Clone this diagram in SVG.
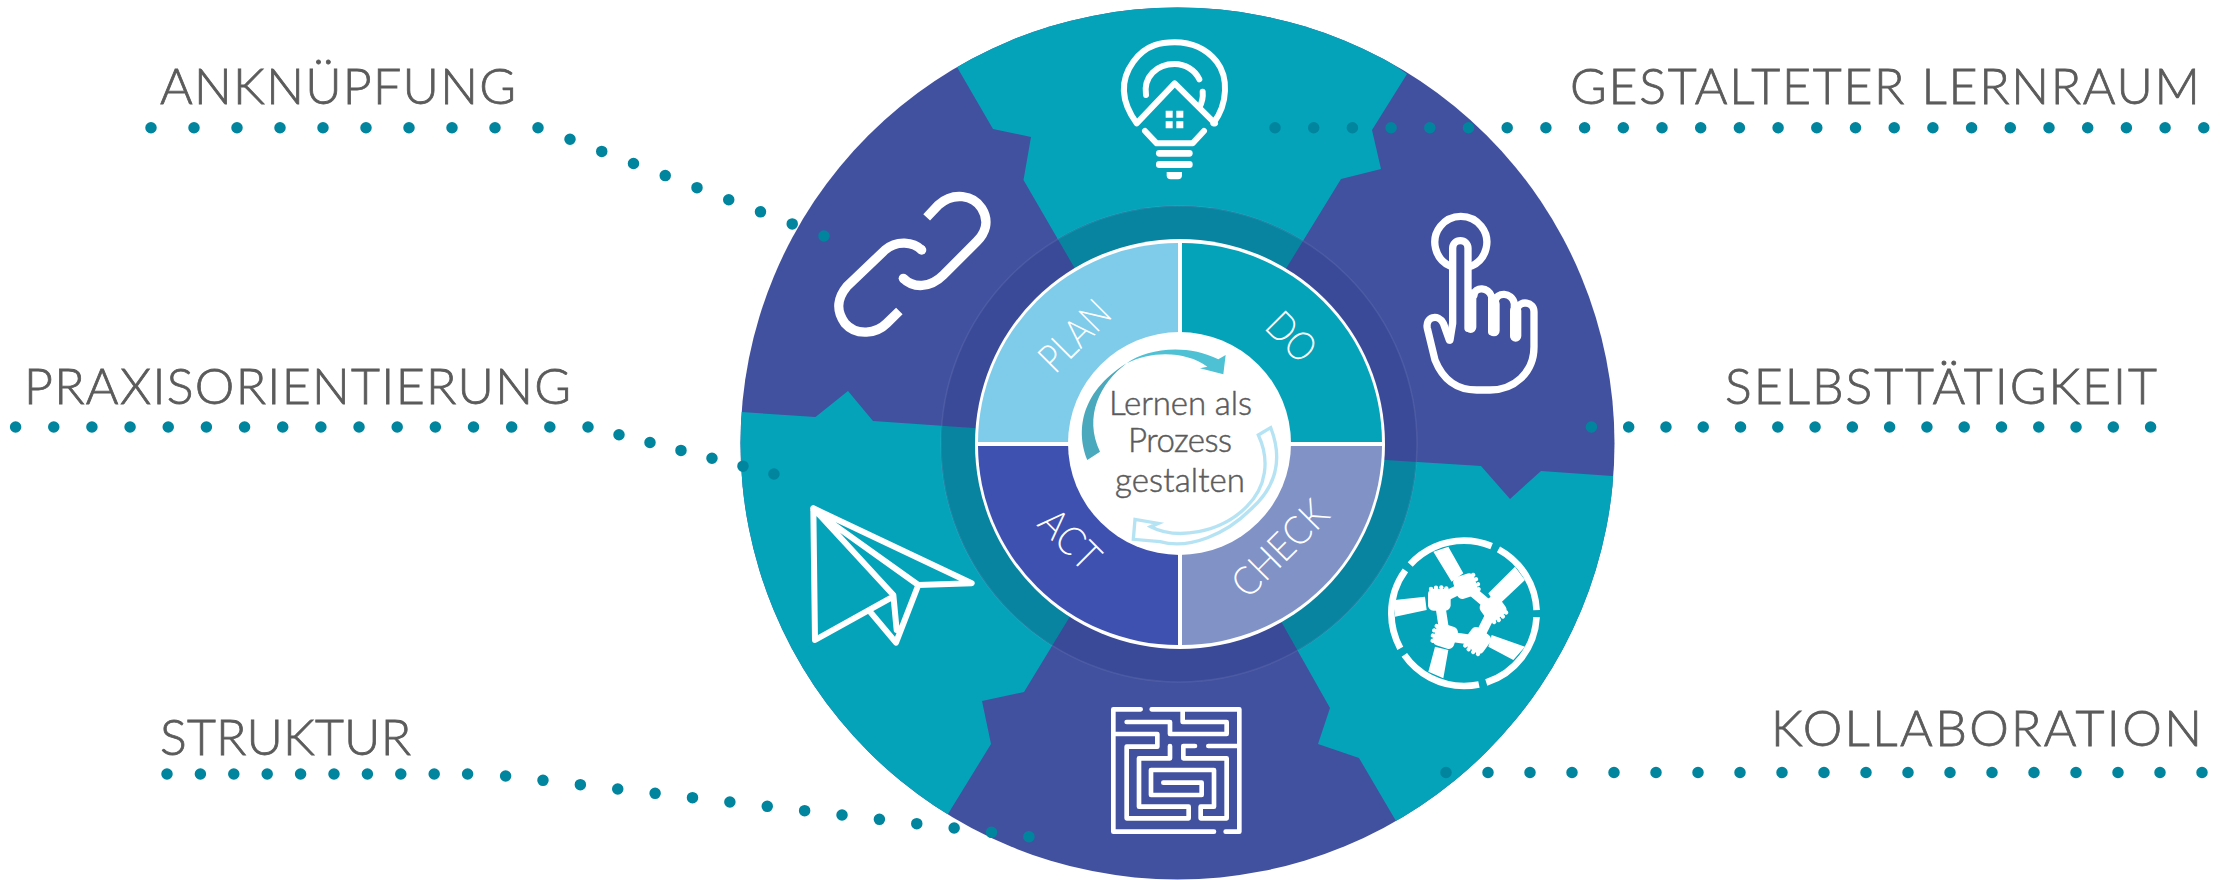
<svg xmlns="http://www.w3.org/2000/svg" xmlns:xlink="http://www.w3.org/1999/xlink" width="2220" height="880" viewBox="0 0 2220 880">
<defs>
<style>
.lb{font-family:"Lato","Noto Sans",sans-serif;font-size:50px;fill:#5b5b5b;font-weight:300;stroke:#5b5b5b;stroke-width:.8px}
.q{font-family:"Lato","Noto Sans",sans-serif;font-size:40px;fill:#fff;font-weight:300}
.c{font-family:"Lato","Noto Sans",sans-serif;font-size:33px;fill:#5b5b5b;font-weight:300;stroke:#5b5b5b;stroke-width:.5px}
.dot{fill:none;stroke:#01859e;stroke-width:11.500;stroke-linecap:round}
.w{fill:none;stroke:#fff;stroke-linecap:round;stroke-linejoin:round}
.f{fill:#fff}
</style>
<clipPath id="big"><ellipse cx="1177.500" cy="443.500" rx="437" ry="436"/></clipPath>
<clipPath id="rc"><circle cx="1179" cy="444" r="238"/></clipPath>
<g id="wedges">
<path d="M957 67L993 129L1031 137L1023.500 180L1074 267L1180 444L1287 267L1341 179L1381 169L1372 130L1407 74L1300 0L1050 0Z"/>
<path d="M741 412L815.500 417L848 391L873 421L974 428L1180 444L1069 618L1024 692L982 701L991 744L948 814L800 880L700 500Z"/>
<path d="M1180 444L1282 623L1330 708L1318 744L1359 758L1396 821L1640 700L1640 478L1612 476L1541 471L1510 499L1481 466L1386 460Z"/>
</g>
<g id="fist" class="f">
<rect x="-34" y="-32" width="68" height="66" rx="16"/>
<circle cx="-25" cy="-31" r="6.500"/><circle cx="-10" cy="-35" r="6.500"/><circle cx="6" cy="-36" r="6.500"/><circle cx="21" cy="-33" r="6.500"/>
</g>
</defs>
<rect width="2220" height="880" fill="#fff"/>
<g id="wheel">
<g clip-path="url(#big)">
<rect x="730" y="0" width="900" height="880" fill="#41519f"/>
<use xlink:href="#wedges" href="#wedges" fill="#05a3b9"/>
</g>
<g clip-path="url(#rc)">
<rect x="930" y="200" width="500" height="500" fill="#3a4a98"/>
<use xlink:href="#wedges" href="#wedges" fill="#0884a0"/>
</g>
<circle cx="1179" cy="444" r="238" fill="none" stroke="#fff" stroke-opacity=".08" stroke-width="1.500"/>
</g>
<g id="quadrants">
<circle cx="1180" cy="444" r="205" fill="#fff"/>
<path d="M1178 243A200 200 0 0 0 978 442H1178Z" fill="#7fcbea"/>
<path d="M1182 243A200 200 0 0 1 1382 442H1182Z" fill="#05a3b9"/>
<path d="M1182 446H1382A200 200 0 0 1 1182 645Z" fill="#8192c7"/>
<path d="M1178 446H978A200 200 0 0 0 1178 645Z" fill="#3f51b0"/>
<text class="q" transform="translate(1055 375) rotate(-45)" textLength="83" lengthAdjust="spacingAndGlyphs">PLAN</text>
<text class="q" transform="translate(1263 328) rotate(45)" textLength="53" lengthAdjust="spacingAndGlyphs">DO</text>
<text class="q" transform="translate(1248 600) rotate(-45)" textLength="118" lengthAdjust="spacingAndGlyphs">CHECK</text>
<text class="q" transform="translate(1036 525) rotate(45)" textLength="68" lengthAdjust="spacingAndGlyphs">ACT</text>
</g>
<g id="hub">
<circle cx="1179.500" cy="443.500" r="111.500" fill="#fff"/>
<g transform="translate(1000 260) scale(.33333)">
<path d="M262 600C230 520 235 400 380 310C300 370 250 470 300 575Z" fill="#4aa9bc"/>
<path d="M380 310C440 265 560 250 655 298L677 285L670 343L600 325L622 320C560 275 460 270 380 310Z" fill="#4fc1d4"/>
<path d="M775 525L812 503C850 600 830 680 750 750C680 820 570 870 480 845L400 838L405 778L475 790L452 800C530 840 660 820 740 740C800 680 810 600 775 525Z" fill="#fff" stroke="#b5e3f4" stroke-width="10"/>
</g>
<text class="c" x="1109" y="415" textLength="143" lengthAdjust="spacing">Lernen als</text>
<text class="c" x="1128" y="452" textLength="104" lengthAdjust="spacing">Prozess</text>
<text class="c" x="1115" y="492" textLength="130" lengthAdjust="spacing">gestalten</text>
</g>
<g id="node-gestalteter-lernraum">
<g transform="translate(1100 20) scale(.33333)">
<path class="w" stroke-width="18" d="M345 310L224 190L110 310C60 240 60 180 100 125C140 70 190 67 224 67C260 67 310 75 350 125C385 170 385 250 340 310"/>
<path class="w" stroke-width="18" d="M138 225C130 170 170 132 224 132C255 132 285 150 298 178M308 215C310 235 305 250 298 262M135 333L170 370H278L312 333"/>
<path class="f" d="M197 272h21v21h-21zM229 272h21v21h-21zM197 304h21v21h-21zM229 304h21v21h-21z"/>
<rect class="f" x="168" y="390" width="110" height="20" rx="10"/>
<rect class="f" x="168" y="423" width="110" height="21" rx="10"/>
<path class="f" d="M200 456H246V466Q246 478 234 478H212Q200 478 200 466Z"/>
</g>
<text class="lb" x="1570" y="104" textLength="630" lengthAdjust="spacing">GESTALTETER LERNRAUM</text>
</g>
<g id="node-anknuepfung">
<g transform="translate(790 170) scale(.33333)">
<path class="w" style="stroke-linecap:butt" stroke-width="28" d="M410 142L445 105C490 65 550 75 575 115C600 155 585 190 560 215L460 315C420 355 370 355 340 325"/>
<path class="w" style="stroke-linecap:butt" stroke-width="28" d="M395 240C370 215 320 210 285 240L170 350C145 380 135 420 165 460C200 500 260 490 290 460L328 423"/>
<circle class="f" cx="340" cy="325" r="14"/><circle class="f" cx="395" cy="240" r="14"/>
</g>
<text class="lb" x="160" y="104" textLength="356" lengthAdjust="spacing">ANKNÜPFUNG</text>
</g>
<g id="node-selbsttaetigkeit">
<g transform="translate(1380 180) scale(.33333)">
<path class="w" stroke-width="22" d="M210 258A78 78 0 1 1 275 258"/>
<path class="w" stroke-width="22" d="M210 480L218 430V205A23 23 0 0 1 264 205V445"/>
<path class="w" stroke-width="22" d="M282 345C285 320 325 320 335 350V455M345 365C350 335 395 335 403 370V470"/>
<path class="w" stroke-width="22" d="M412 385C420 360 462 365 462 395V500C462 580 400 630 330 630H290C220 630 185 590 165 540L142 445C135 410 175 400 190 430L208 480"/>
<path class="w" stroke-width="34" d="M272 345V442M342 372V452M407 392V468"/>
</g>
<text class="lb" x="1725" y="404" textLength="432" lengthAdjust="spacing">SELBSTTÄTIGKEIT</text>
</g>
<g id="node-praxisorientierung">
<g transform="translate(790 490) scale(.33333)">
<path class="w" stroke-width="18" d="M70 55L75 450L300 325M70 55L310 315L320 420M70 55L545 280L385 285L70 60M385 285L318 458L240 365"/>
</g>
<text class="lb" x="24" y="404" textLength="547" lengthAdjust="spacing">PRAXISORIENTIERUNG</text>
</g>
<g id="node-kollaboration">
<g transform="translate(1360 510) scale(.33333)">
<circle cx="312" cy="310" r="218" fill="none" stroke="#fff" stroke-width="20" pathLength="360" stroke-dasharray="69 6 67 6 65 6 70 6 59 6" stroke-dashoffset="-3"/>
<path class="f" d="M220 125L265 110L310 190L275 215ZM465 170L495 210L410 290L385 250ZM495 410L460 450L385 410L395 375ZM205 485L250 505L265 420L225 410ZM105 270L105 320L200 300L195 260Z"/>
<polygon points="318,228 400,297 352,392 255,378 238,268" fill="none" stroke="#fff" stroke-width="30" stroke-linejoin="round"/>
<use xlink:href="#fist" href="#fist" transform="translate(238 268)"/>
<use xlink:href="#fist" href="#fist" transform="translate(318 228) rotate(72)"/>
<use xlink:href="#fist" href="#fist" transform="translate(400 297) rotate(144)"/>
<use xlink:href="#fist" href="#fist" transform="translate(352 392) rotate(216)"/>
<use xlink:href="#fist" href="#fist" transform="translate(255 378) rotate(288)"/>
</g>
<text class="lb" x="1771" y="746" textLength="431" lengthAdjust="spacing">KOLLABORATION</text>
</g>
<g id="node-struktur">
<g transform="translate(1080 690) scale(.33333)">
<path class="w" stroke-width="14" d="M182 58H100V425H402M215 58H478V425H437M308 58V96H440V132H270V96H140M100 132H232V170H140V385H326V350H177V205H270V168M345 168H310V205H440V385H362V350H402V240H213V315H365V278H250M385 168H478"/>
</g>
<text class="lb" x="160" y="755" textLength="251" lengthAdjust="spacing">STRUKTUR</text>
</g>
<g id="connectors">
<path class="dot" stroke-dasharray="0 43" d="M151 127.700H538.100"/>
<path class="dot" stroke-dasharray="0 33.970" d="M570 139.300L824 236"/>
<path class="dot" stroke-dasharray="0 38.160" d="M15.600 427H588.100"/>
<path class="dot" stroke-dasharray="0 31.970" d="M619 434.700L774 474"/>
<path class="dot" stroke-dasharray="0 33.400" d="M167 774H467.700"/>
<path class="dot" stroke-dasharray="0 37.630" d="M505.600 776L1029 836.700"/>
<path class="dot" stroke-dasharray="0 38.700" d="M1275 127.700H2204"/>
<path class="dot" stroke-dasharray="0 37.280" d="M1591.400 427H2150.700"/>
<path class="dot" stroke-dasharray="0 42" d="M1446 772.500H2202.100"/>
</g>
</svg>
